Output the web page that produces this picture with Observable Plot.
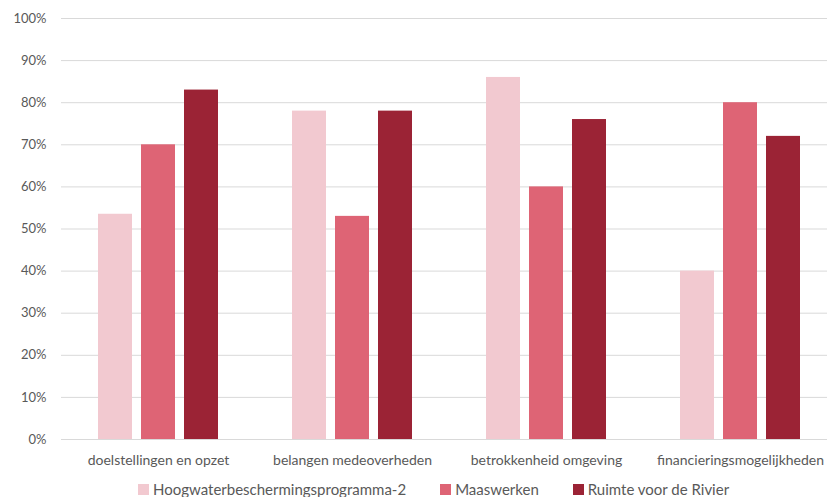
<!DOCTYPE html>
<html><head><meta charset="utf-8">
<script src="https://cdn.jsdelivr.net/npm/d3@7"></script>
<script src="https://cdn.jsdelivr.net/npm/@observablehq/plot@0.6"></script>
<style>
body{margin:0;background:#fff;font-family:Lato,"Open Sans",sans-serif;overflow:hidden;}
#legend{display:flex;align-items:center;padding-left:138px;padding-top:2px;font-size:15px;color:#595959;line-height:18px;}
#legend .item{display:flex;align-items:center;margin-right:34px;}
#legend .sw{width:11px;height:11px;margin-right:4px;}
</style>
</head><body>
<div id="chart"></div>
<script>
const categories = ["doelstellingen en opzet","belangen medeoverheden","betrokkenheid omgeving","financieringsmogelijkheden"];
const series = ["Hoogwaterbeschermingsprogramma-2","Maaswerken","Ruimte voor de Rivier"];
const hwbp2 = [53.5, 78, 86, 40];
const maaswerken = [70, 53, 60, 80];
const ruimteVoorDeRivier = [83, 78, 76, 72];
const colors = ["#f2c9d0","#de6475","#9b2335"];
const yTicks = [0,10,20,30,40,50,60,70,80,90,100];

const values = [hwbp2, maaswerken, ruimteVoorDeRivier];
const data = categories.flatMap((c,i)=>series.map((s,j)=>({cat:c, s, v:values[j][i]})));

const plot = Plot.plot({
  width: 827, height: 478,
  marginLeft: 60, marginRight: 0, marginTop: 18, marginBottom: 39,
  style: {fontFamily: "Lato, 'Open Sans', sans-serif", fontSize: "14px", color: "#595959", background: "#fff", overflow: "hidden"},
  fx: {domain: categories, range: [60, 838], padding: 0, label: null},
  x: {domain: series, range: [97, 217], paddingInner: 0.21, paddingOuter: 0, axis: null},
  y: {domain: [0, 100], label: null},
  color: {domain: series, range: colors},
  marks: [
    Plot.gridY(yTicks, {stroke: "#d9d9d9", strokeOpacity: 1, strokeWidth: 1}),
    Plot.barY(data, {fx: "cat", x: "s", y: "v", fill: "s"}),
    Plot.axisY(yTicks, {tickFormat: d => d + "%", tickSize: 0, tickPadding: 15, label: null, fill: "#595959", fontSize: 13}),
    Plot.axisFx({anchor: "bottom", tickSize: 0, tickPadding: 16, label: null, fill: "#595959", fontSize: 14})
  ]
});
document.getElementById("chart").appendChild(plot);

const legend = document.createElement("div");
legend.id = "legend";
series.forEach((s,i)=>{
  const it = document.createElement("div"); it.className = "item";
  const sw = document.createElement("div"); sw.className = "sw"; sw.style.background = colors[i];
  const t = document.createElement("span"); t.textContent = s;
  it.appendChild(sw); it.appendChild(t); legend.appendChild(it);
});
document.body.appendChild(legend);
</script>
</body></html>
